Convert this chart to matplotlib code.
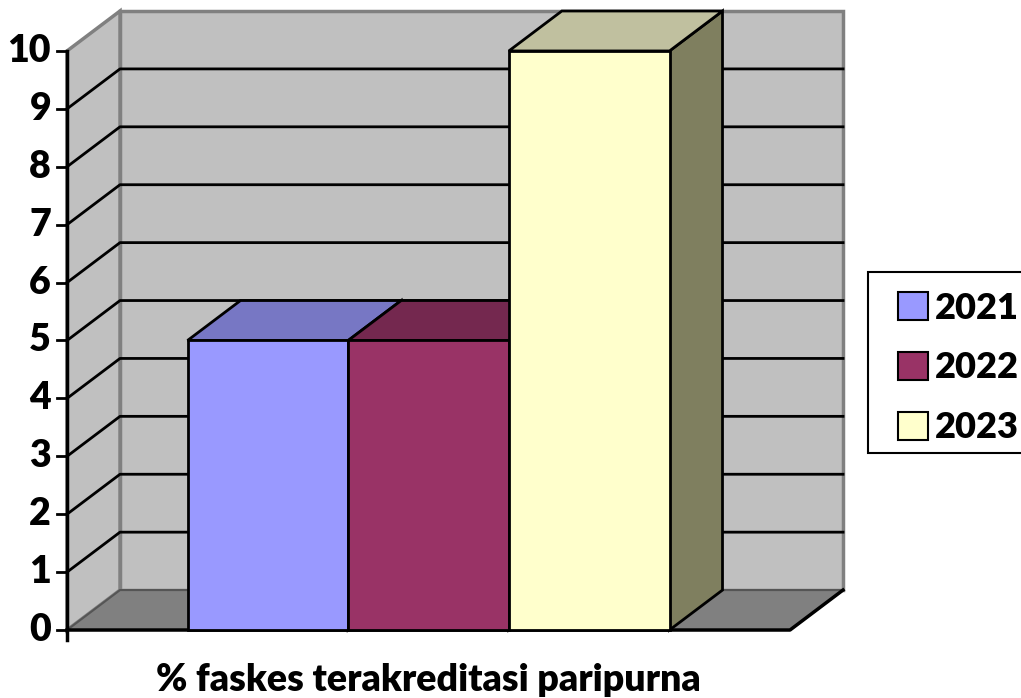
import matplotlib
matplotlib.use("Agg")
from matplotlib import pyplot as plt
from matplotlib.patches import Polygon, Patch, Rectangle

plt.rcParams['font.family'] = ['Lato', 'DejaVu Sans']

# data
category = "% faskes terakreditasi paripurna"
series = ["2021", "2022", "2023"]
values = [5, 5, 10]
y_ticks = list(range(0, 11))

# colours: front, top, side
front_colors = ["#9999FF", "#993366", "#FFFFCC"]
top_colors = ["#7777C4", "#74284F", "#C0C09F"]
side_colors = ["#5C5C99", "#5C1F3D", "#7F7F5F"]

# 3d-ish layout (category width = 1, gap width 150%)
bar_w = 1 / 4.5
start = 0.75 / 4.5
dx, dy = 0.0733, 0.69
ymax = 10
fsize = 27

fig = plt.figure(figsize=(10.21, 6.98), dpi=100)
ax = fig.add_axes([0, 0, 1, 1])
ax.set_xlim(-0.0927, 1.3195)
ax.set_ylim(-1.174, 10.88)
ax.axis("off")

def poly(pts, fc, ec="black", lw=2, z=1):
    ax.add_patch(Polygon(pts, closed=True, facecolor=fc, edgecolor=ec,
                         linewidth=lw, zorder=z, joinstyle="miter"))

# walls and floor
poly([(dx, dy), (1 + dx, dy), (1 + dx, ymax + dy), (dx, ymax + dy)], "#C0C0C0", "#808080", 2.5)
poly([(0, 0), (dx, dy), (dx, ymax + dy), (0, ymax)], "#C0C0C0", "#808080", 2.5)
poly([(0, 0), (1, 0), (1 + dx, dy), (dx, dy)], "#808080", "#555555", 1.5)

# gridlines
for v in y_ticks[1:-1]:
    ax.plot([0, dx, 1 + dx], [v, v + dy, v + dy], color="black", lw=2, zorder=2)

# floor outline (front and right edges)
ax.plot([0, 1, 1 + dx], [0, 0, dy], color="black", lw=2.5, zorder=3)

# bars
for i, (v, fc, tc, sc) in enumerate(zip(values, front_colors, top_colors, side_colors)):
    x0 = start + i * bar_w
    x1 = x0 + bar_w
    z = 4 + i
    poly([(x1, 0), (x1 + dx, dy), (x1 + dx, v + dy), (x1, v)], sc, z=z)
    poly([(x0, v), (x1, v), (x1 + dx, v + dy), (x0 + dx, v + dy)], tc, z=z)
    poly([(x0, 0), (x1, 0), (x1, v), (x0, v)], fc, z=z)

# value axis
ax.plot([0, 0], [-0.17, ymax], color="black", lw=2.5, zorder=10)
for v in y_ticks:
    ax.plot([-0.0138, 0], [v, v], color="black", lw=2, zorder=10)
    ax.text(-0.022, v, str(v), ha="right", va="center", fontsize=fsize,
            fontweight="heavy")

# category label
ax.text(0.5, -0.86, category, ha="center", va="center", fontsize=fsize,
        fontweight="heavy")

# legend (frame drawn separately, it runs off the right edge)
fig.patches.append(Rectangle((0.850, 0.351), 0.154, 0.259, transform=fig.transFigure,
                             facecolor="white", edgecolor="black", linewidth=1.5,
                             zorder=0))
handles = [Patch(facecolor=c, edgecolor="black", linewidth=1.5) for c in front_colors]
fig.legend(handles, series, loc="upper left", bbox_to_anchor=(0.8795, 0.582),
           prop={"size": 26, "weight": "heavy"}, frameon=False,
           handlelength=0.83, handleheight=0.83, handletextpad=0.18,
           labelspacing=0.74, borderpad=0, borderaxespad=0)

fig.savefig("out.png", dpi=100)
